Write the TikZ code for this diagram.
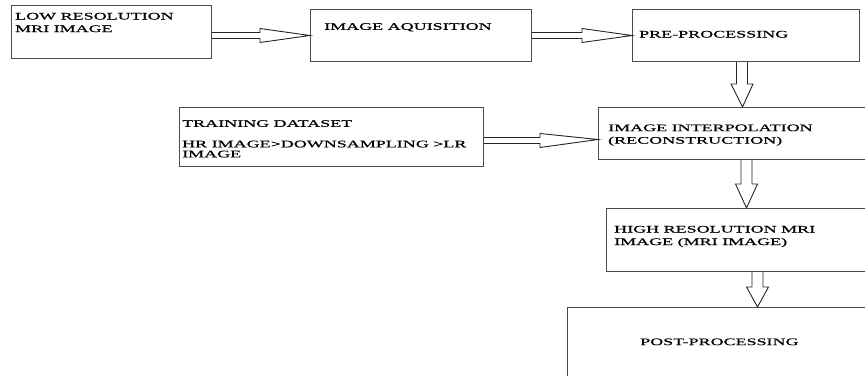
\documentclass[tikz,border=0pt]{standalone}
\usepackage{fontspec}
\setmainfont[FakeStretch=1.8, FakeBold=0.7]{Liberation Serif}
\usetikzlibrary{calc}

\begin{document}
\begin{tikzpicture}[x=1pt, y=1pt,
    box/.style={draw=black!70, line width=1pt, anchor=north west, inner sep=0pt},
    lbl/.style={anchor=north west, inner sep=0pt, align=left, text=black,
        font=\fontsize{10}{12.5}\selectfont},
    harrow/.style={draw=black!85, line width=0.9pt,
        to path={let \p1=(\tikztostart), \p2=(\tikztotarget) in
            (\x1,\y1+3) -- (\x2-#1,\y1+3) -- (\x2-#1,\y1+7) -- (\tikztotarget)
            -- (\x2-#1,\y1-7) -- (\x2-#1,\y1-3) -- (\x1,\y1-3)}},
    harrow/.default=50,
    varrow/.style={draw=black!85, line width=0.9pt,
        to path={let \p1=(\tikztostart), \p2=(\tikztotarget) in
            (\x1-5.5,\y1) -- (\x1-5.5,\y2+#1) -- (\x1-11,\y2+#1) -- (\tikztotarget)
            -- (\x1+11,\y2+#1) -- (\x1+5.5,\y2+#1) -- (\x1+5.5,\y1)}},
    varrow/.default=23]
    \useasboundingbox (0,0) rectangle (865,-375);

    \node[box, minimum width=200pt, minimum height=53pt] (lr) at (11,-5) {};
    \node[box, minimum width=221pt, minimum height=52pt] (acq) at (310,-9) {};
    \node[box, minimum width=227pt, minimum height=52pt] (pre) at (632,-9) {};
    \node[box, minimum width=304pt, minimum height=59pt] (train) at (179,-107) {};
    \node[box, minimum width=300pt, minimum height=52pt] (interp) at (598,-107) {};
    \node[box, minimum width=290pt, minimum height=63pt] (hr) at (606,-208) {};
    \node[box, minimum width=330pt, minimum height=100pt] (post) at (567,-307) {};

    \node[lbl] (lrtxt) at ([shift={(4,-7.7)}]lr.north west) {LOW RESOLUTION\\MRI IMAGE};
    \node[lbl] (acqtxt) at ([shift={(14,-14)}]acq.north west) {IMAGE AQUISITION};
    \node[lbl] (pretxt) at ([shift={(7,-21.7)}]pre.north west) {PRE-PROCESSING};
    \node[lbl] (traintxt) at ([shift={(3,-13)}]train.north west)
        {TRAINING DATASET\\[8pt]HR IMAGE>DOWNSAMPLING >LR\\[-2.5pt]IMAGE};
    \node[lbl] (interptxt) at ([shift={(10,-17.3)}]interp.north west)
        {IMAGE INTERPOLATION\\(RECONSTRUCTION)};
    \node[lbl] (hrtxt) at ([shift={(8,-17.7)}]hr.north west)
        {HIGH RESOLUTION MRI\\IMAGE (MRI IMAGE)};
    \node[lbl] (posttxt) at ([shift={(73,-31.3)}]post.north west) {POST-PROCESSING};

    \draw[harrow] (lr.east |- acq.west) to (acq.west);
    \draw[harrow] (acq.east) to (pre.west);
    \draw[harrow=58] ([yshift=-3.5]train.east) to ([yshift=-6]interp.west);
    \draw[varrow] ([xshift=-4]pre.south) to ([xshift=-6]interp.north);
    \draw[varrow=24] ([xshift=-2]interp.south) to ([xshift=-5]hr.north);
    \draw[varrow=20] ([xshift=6]hr.south) to ([xshift=6]hr.south |- post.north);
\end{tikzpicture}
\end{document}
